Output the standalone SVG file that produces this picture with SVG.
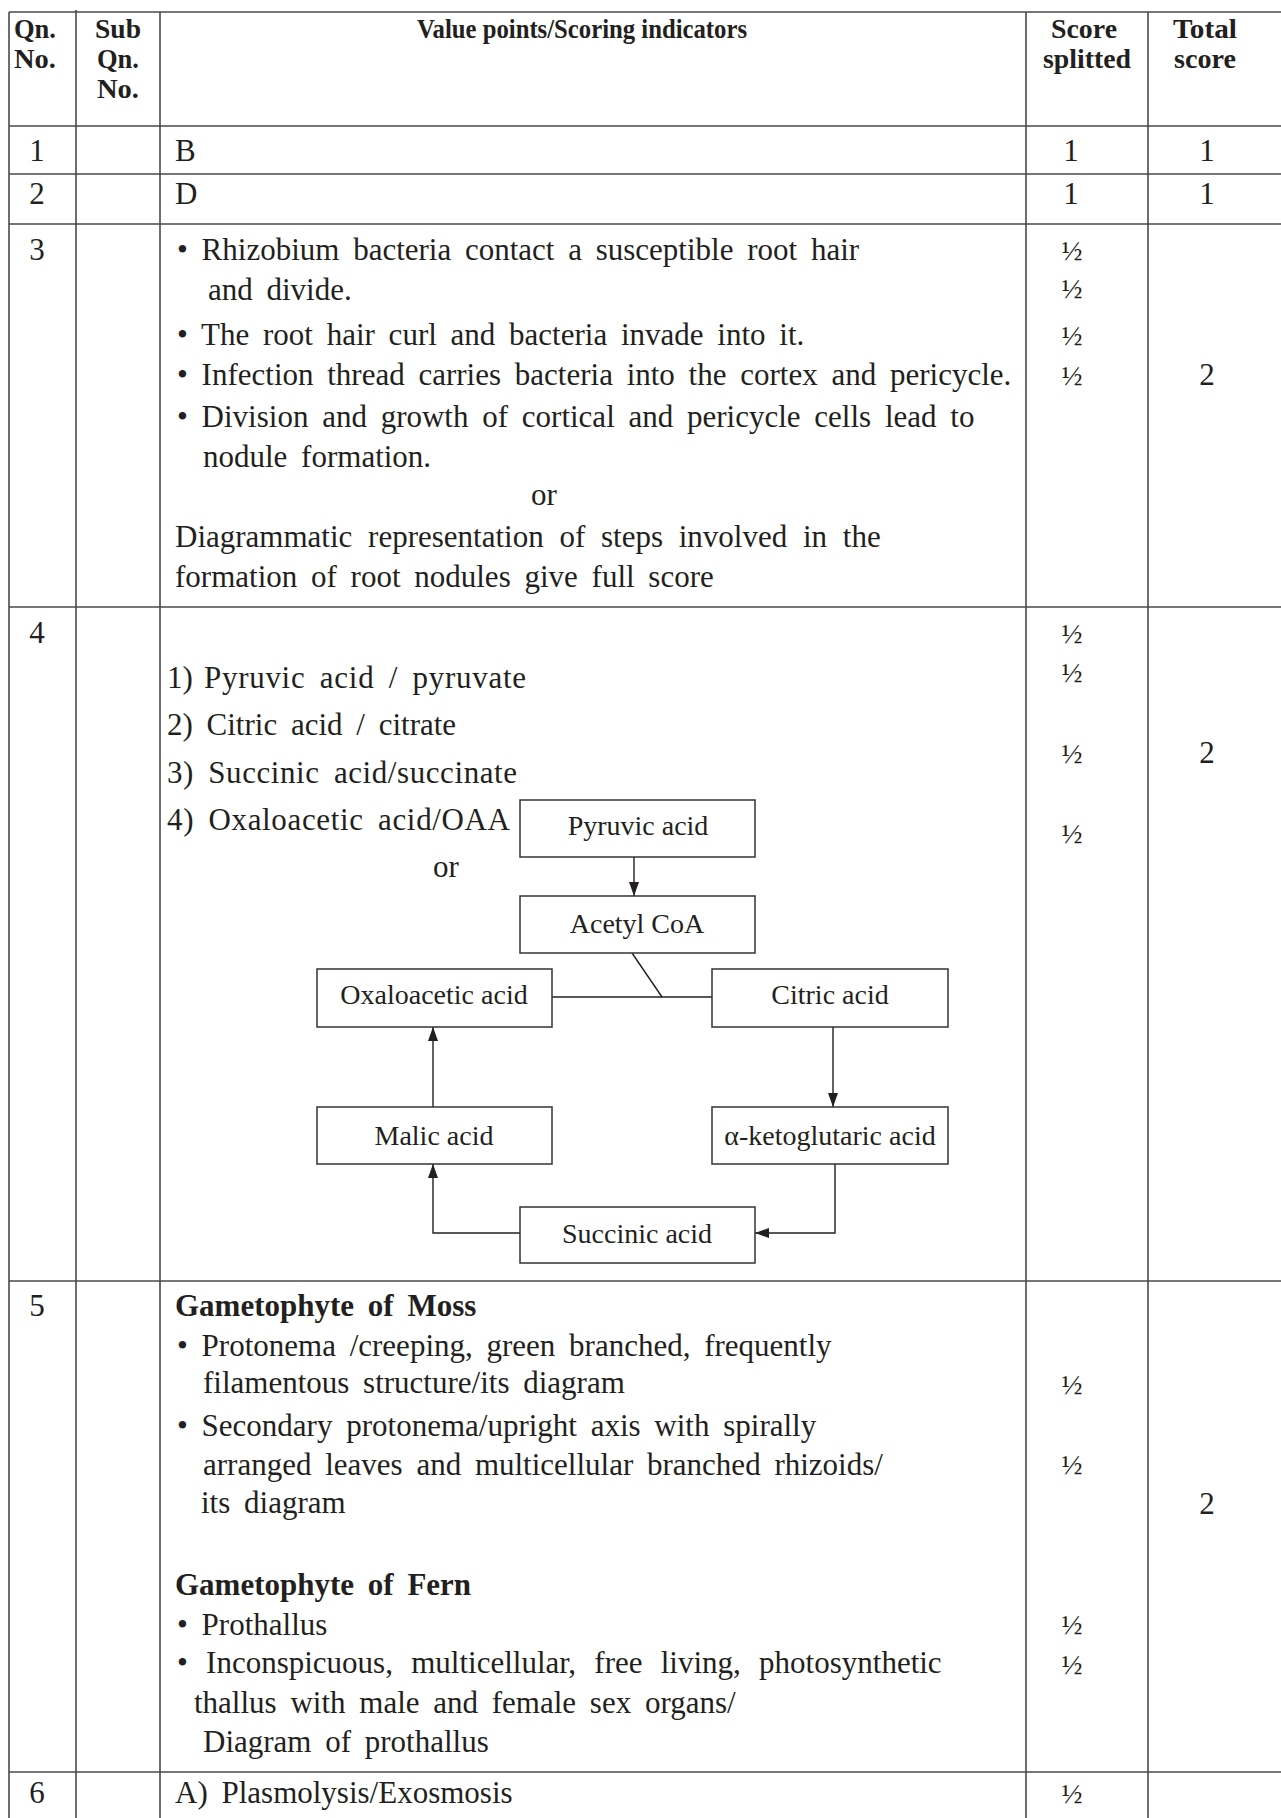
<svg xmlns="http://www.w3.org/2000/svg" width="1281" height="1818" viewBox="0 0 1281 1818">
<style>
text { font-family: "Liberation Serif", "Times New Roman", serif; fill: #231f20; }
.t { font-size: 31px; word-spacing: 6px; }
.h { font-size: 27px; font-weight: bold; }
.bd { font-weight: bold; }
.c { text-anchor: middle; }
.f { font-size: 28px; }
.bx { font-size: 28px; text-anchor: middle; }
.grid line { stroke: #4a4a4a; stroke-width: 1.6; }
.node rect { fill: #fff; stroke: #333; stroke-width: 1.5; }
.conn { stroke: #231f20; stroke-width: 1.4; fill: none; }
</style>
<defs>
<marker id="arr" markerUnits="userSpaceOnUse" markerWidth="14" markerHeight="10" refX="14" refY="5" orient="auto">
<path d="M0,0 L14,5 L0,10 z" fill="#231f20"/>
</marker>
</defs>
<rect width="1281" height="1818" fill="#fff"/>
<g id="table-grid" class="grid">
<line x1="9" y1="12" x2="1281" y2="12"/>
<line x1="9" y1="126" x2="1281" y2="126"/>
<line x1="9" y1="174" x2="1281" y2="174"/>
<line x1="9" y1="224" x2="1281" y2="224"/>
<line x1="9" y1="607" x2="1281" y2="607"/>
<line x1="9" y1="1281" x2="1281" y2="1281"/>
<line x1="9" y1="1772" x2="1281" y2="1772"/>
<line x1="9" y1="12" x2="9" y2="1818"/>
<line x1="76" y1="10" x2="76" y2="1818"/>
<line x1="160" y1="12" x2="160" y2="1818"/>
<line x1="1026" y1="12" x2="1026" y2="1818"/>
<line x1="1148" y1="12" x2="1148" y2="1818"/>
</g>
<g id="header">
<text class="h" x="14" y="38" textLength="42" lengthAdjust="spacingAndGlyphs">Qn.</text>
<text class="h" x="14" y="68" textLength="42" lengthAdjust="spacingAndGlyphs">No.</text>
<text class="h c" x="118" y="38" textLength="46" lengthAdjust="spacingAndGlyphs">Sub</text>
<text class="h c" x="118" y="68" textLength="42" lengthAdjust="spacingAndGlyphs">Qn.</text>
<text class="h c" x="118" y="98" textLength="42" lengthAdjust="spacingAndGlyphs">No.</text>
<text class="h c" x="582" y="38" textLength="330" lengthAdjust="spacingAndGlyphs">Value points/Scoring indicators</text>
<text class="h c" x="1084" y="38" textLength="66" lengthAdjust="spacingAndGlyphs">Score</text>
<text class="h c" x="1087" y="68" textLength="88" lengthAdjust="spacingAndGlyphs">splitted</text>
<text class="h c" x="1205" y="38" textLength="64" lengthAdjust="spacingAndGlyphs">Total</text>
<text class="h c" x="1205" y="68" textLength="62" lengthAdjust="spacingAndGlyphs">score</text>
</g>
<g id="row1">
<text class="t c" x="37" y="161">1</text>
<text class="t" x="175" y="161">B</text>
<text class="t c" x="1071" y="161">1</text>
<text class="t c" x="1207" y="161">1</text>
</g>
<g id="row2">
<text class="t c" x="37" y="204">2</text>
<text class="t" x="175" y="204">D</text>
<text class="t c" x="1071" y="204">1</text>
<text class="t c" x="1207" y="204">1</text>
</g>
<g id="row3">
<text class="t c" x="37" y="260">3</text>
<text class="t" x="177" y="260">• Rhizobium bacteria contact a susceptible root hair</text>
<text class="t" x="208" y="300">and divide.</text>
<text class="t" x="177" y="345">• The root hair curl and bacteria invade into it.</text>
<text class="t" x="177" y="385">• Infection thread carries bacteria into the cortex and pericycle.</text>
<text class="t" x="177" y="427">• Division and growth of cortical and pericycle cells lead to</text>
<text class="t" x="203" y="467">nodule formation.</text>
<text class="t c" x="544" y="505">or</text>
<text class="t" x="175" y="547" style="word-spacing:8px">Diagrammatic representation of steps involved in the</text>
<text class="t" x="175" y="587">formation of root nodules give full score</text>
<text class="f c" x="1072" y="260">½</text>
<text class="f c" x="1072" y="298">½</text>
<text class="f c" x="1072" y="345">½</text>
<text class="f c" x="1072" y="385">½</text>
<text class="t c" x="1207" y="385">2</text>
</g>
<g id="row4">
<text class="t c" x="37" y="643">4</text>
<text class="t" x="167" y="688">1)</text>
<text class="t" x="204" y="688" textLength="322" lengthAdjust="spacing">Pyruvic acid / pyruvate</text>
<text class="t" x="167" y="735">2) Citric acid / citrate</text>
<text class="t" x="167" y="783" textLength="350" lengthAdjust="spacing">3) Succinic acid/succinate</text>
<text class="t" x="167" y="830" textLength="343" lengthAdjust="spacing">4) Oxaloacetic acid/OAA</text>
<text class="t c" x="446" y="877">or</text>
<text class="f c" x="1072" y="643">½</text>
<text class="f c" x="1072" y="682">½</text>
<text class="f c" x="1072" y="763">½</text>
<text class="f c" x="1072" y="843">½</text>
<text class="t c" x="1207" y="763">2</text>
</g>
<g id="connectors">
<line class="conn" x1="634" y1="857" x2="634" y2="896" marker-end="url(#arr)"/>
<line class="conn" x1="552" y1="997" x2="712" y2="997"/>
<line class="conn" x1="632" y1="953" x2="662" y2="997"/>
<line class="conn" x1="833" y1="1027" x2="833" y2="1107" marker-end="url(#arr)"/>
<polyline class="conn" points="835,1164 835,1233 755,1233" marker-end="url(#arr)"/>
<polyline class="conn" points="520,1233 433,1233 433,1164" marker-end="url(#arr)"/>
<line class="conn" x1="433" y1="1107" x2="433" y2="1027" marker-end="url(#arr)"/>
</g>
<g id="node-pyruvic" class="node">
<rect x="520" y="800" width="235" height="57"/>
<text class="bx" x="638" y="835">Pyruvic acid</text>
</g>
<g id="node-acetyl" class="node">
<rect x="520" y="896" width="235" height="57"/>
<text class="bx" x="637" y="933">Acetyl CoA</text>
</g>
<g id="node-oxaloacetic" class="node">
<rect x="317" y="969" width="235" height="58"/>
<text class="bx" x="434" y="1004">Oxaloacetic acid</text>
</g>
<g id="node-citric" class="node">
<rect x="712" y="969" width="236" height="58"/>
<text class="bx" x="830" y="1004">Citric acid</text>
</g>
<g id="node-malic" class="node">
<rect x="317" y="1107" width="235" height="57"/>
<text class="bx" x="434" y="1145">Malic acid</text>
</g>
<g id="node-ketoglutaric" class="node">
<rect x="712" y="1107" width="236" height="57"/>
<text class="bx" x="830" y="1145">α-ketoglutaric acid</text>
</g>
<g id="node-succinic" class="node">
<rect x="520" y="1207" width="235" height="56"/>
<text class="bx" x="637" y="1243">Succinic acid</text>
</g>
<g id="row5">
<text class="t c" x="37" y="1316">5</text>
<text class="t bd" x="175" y="1316">Gametophyte of Moss</text>
<text class="t" x="177" y="1356">• Protonema /creeping, green branched, frequently</text>
<text class="t" x="203" y="1393">filamentous structure/its diagram</text>
<text class="t" x="177" y="1436">• Secondary protonema/upright axis with spirally</text>
<text class="t" x="203" y="1475">arranged leaves and multicellular branched rhizoids/</text>
<text class="t" x="201" y="1513">its diagram</text>
<text class="t bd" x="175" y="1595">Gametophyte of Fern</text>
<text class="t" x="177" y="1635">• Prothallus</text>
<text class="t" x="177" y="1673" style="word-spacing:10.5px">• Inconspicuous, multicellular, free living, photosynthetic</text>
<text class="t" x="194" y="1713">thallus with male and female sex organs/</text>
<text class="t" x="203" y="1752">Diagram of prothallus</text>
<text class="f c" x="1072" y="1394">½</text>
<text class="f c" x="1072" y="1474">½</text>
<text class="f c" x="1072" y="1634">½</text>
<text class="f c" x="1072" y="1674">½</text>
<text class="t c" x="1207" y="1514">2</text>
</g>
<g id="row6">
<text class="t c" x="37" y="1803">6</text>
<text class="t" x="175" y="1803">A) Plasmolysis/Exosmosis</text>
<text class="f c" x="1072" y="1803">½</text>
</g>
</svg>
